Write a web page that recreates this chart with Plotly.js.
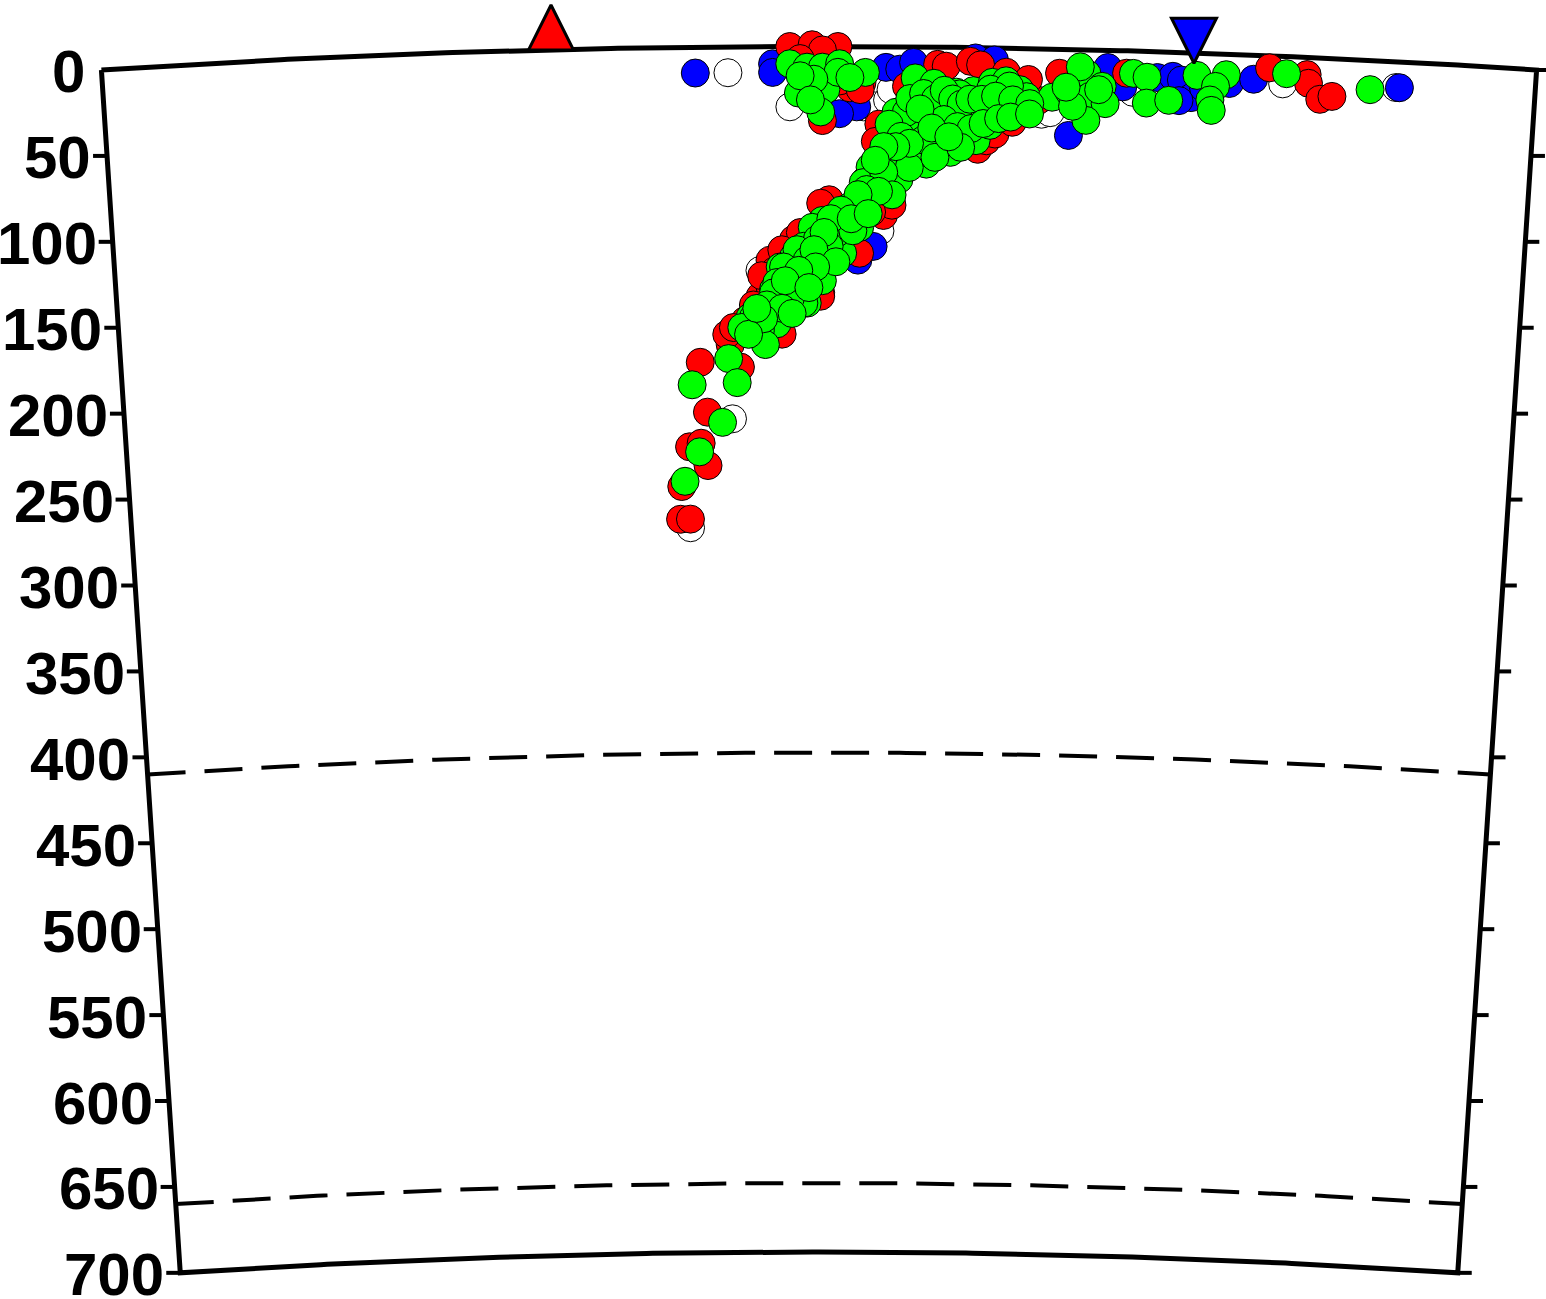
<!DOCTYPE html>
<html>
<head>
<meta charset="utf-8">
<script src="https://cdn.plot.ly/plotly-3.0.1.min.js"></script>
<style>html,body{margin:0;padding:0;background:#fff;}#chart{width:1546px;height:1299px;}</style>
</head>
<body>
<div id="chart"></div>
<script>
// ---------------- DATA ----------------
// Cross-section geometry (km)
const EARTH_R = 6371;
const SECTION_LENGTH = 834;   // distance along section (km)
const MAX_DEPTH = 700;
const depthTicks = [0, 50, 100, 150, 200, 250, 300, 350, 400, 450, 500, 550, 600, 650, 700];
const discontinuities = [410, 660];

// Surface features: volcano (red) and trench (blue)
const volcanoDist = [262];
const volcanoDepth = [-26];
const trenchDist = [635];
const trenchDepth = [6];

// Hypocentres: distance along section (km), depth (km)
const whiteDist  = [364, 400, 443, 447, 457, 459, 547, 552, 600, 687, 753, 382, 365, 339, 453];
const whiteDepth = [15, 35, 35, 34, 31, 25, 38, 37, 24, 16, 15, 130, 216, 279, 107];

const blueDist  = [345, 390, 390, 439, 429, 456, 464, 472, 508, 519, 563, 585, 594, 614, 623, 628, 634, 627, 656, 670, 755, 449, 440, 641];
const blueDepth = [15, 10, 15, 35, 39, 12, 13, 9, 6, 7, 50, 10, 21, 15, 14, 16, 26, 28, 17, 14, 15, 116, 124, 20];

const redDist  = [400, 413, 428, 419, 406, 442, 435, 419, 486, 491, 505, 511, 526, 468, 557, 596, 453, 510, 515, 457, 455, 423, 418, 402, 388, 382, 418, 441, 395, 679, 701, 702, 709, 716, 346, 364, 370, 350, 339, 346, 350, 334, 333, 339, 362, 388, 418, 500, 464, 444, 391, 373, 429, 441,
  452, 450, 520, 530, 545, 539, 460, 448, 406, 395, 383, 378, 366, 400];
const redDepth = [0, -1, 0, 2, 7, 21, 24, 43, 10, 11, 8, 10, 14, 23, 14, 13, 60, 59, 54, 87, 98, 89, 91, 112, 124, 145, 143, 120, 167, 7, 10, 15, 24, 22, 183, 173, 186, 212, 232, 230, 243, 255, 274, 274, 167, 140, 145, 54, 60, 78, 130, 159, 20, 25,
  45, 55, 50, 43, 30, 18, 92, 96, 108, 118, 133, 150, 163, 138];

const greenDist  = [400, 410, 419, 429, 444, 405, 421, 418, 428, 414, 406, 435, 412,
  473, 484, 497, 507, 518, 526, 534, 538, 462, 468, 474, 480, 488, 495, 503, 511, 518, 526, 534, 462, 472, 480, 494, 480, 468, 457, 451, 447, 464, 455, 499, 517, 523, 503, 484, 474, 468, 472, 509, 491, 528, 500, 517,
  553, 563, 573, 575, 582, 584, 573, 565, 600, 569, 561, 580, 608, 608, 621, 637, 654, 648, 645, 646, 689, 738,
  447, 443, 445, 435, 441, 429, 419, 413, 425, 431, 422, 408, 402, 394, 400, 416, 390, 406, 410, 398, 376, 392, 382,
  470, 455, 445, 439, 428, 437, 416, 423, 404, 410, 396, 404, 392, 419, 408, 400, 390, 378, 382, 385, 363, 368, 341, 359, 345, 336,
  458, 465, 470, 478, 485, 490, 495, 500, 505, 512, 520, 530, 540, 486, 478, 470, 490, 498, 506, 513, 522, 529, 540, 462, 455, 450, 485, 500, 476, 483, 493, 460, 452, 440, 430, 424, 436, 446,
  420, 414, 427, 415, 405, 397, 411, 386, 395, 401, 384, 371, 375, 380];
const greenDepth = [10, 12, 12, 10, 15, 27, 25, 38, 15, 19, 17, 18, 31,
  18, 21, 26, 25, 20, 19, 24, 28, 38, 44, 48, 41, 35, 38, 42, 40, 36, 34, 37, 50, 60, 60, 61, 68, 70, 64, 73, 79, 77, 70, 27, 24, 36, 38, 41, 47, 38, 64, 54, 48, 22, 47, 45,
  28, 25, 14, 27, 21, 31, 41, 33, 13, 10, 22, 23, 15, 30, 28, 13, 12, 19, 27, 33, 10, 17,
  70, 79, 89, 93, 105, 101, 101, 105, 112, 120, 122, 116, 122, 128, 134, 136, 141, 147, 149, 143, 157, 161, 163,
  70, 73, 83, 93, 108, 107, 112, 116, 118, 124, 128, 134, 137, 136, 149, 146, 143, 157, 165, 173, 181, 195, 196, 218, 235, 252,
  45, 52, 30, 27, 30, 25, 30, 33, 30, 30, 28, 30, 32, 55, 54, 56, 42, 46, 47, 44, 41, 40, 38, 58, 58, 66, 64, 58, 36, 47, 52, 86, 84, 86, 95, 100, 100, 97,
  108, 118, 125, 128, 130, 136, 140, 150, 152, 155, 158, 163, 167, 152];

// ---------------- PROJECTION ----------------
// Spherical cross-section: distance along the surface -> angle, depth -> radius.
function proj(dist, depth) {
  const th = (dist - SECTION_LENGTH / 2) / EARTH_R;
  const r = EARTH_R - depth;
  return [r * Math.sin(th), r * Math.cos(th) - EARTH_R];
}
function projList(dists, depths) {
  const xs = [], ys = [];
  for (let i = 0; i < dists.length; i++) {
    const p = proj(dists[i], depths[i]);
    xs.push(p[0]); ys.push(p[1]);
  }
  return {x: xs, y: ys};
}
function arc(depth, n) {
  const xs = [], ys = [];
  for (let i = 0; i <= n; i++) {
    const p = proj(SECTION_LENGTH * i / n, depth);
    xs.push(p[0]); ys.push(p[1]);
  }
  return {x: xs, y: ys};
}

const KM_PER_PX = 0.5807;
const traces = [];

// Frame
(function () {
  const top = arc(0, 200), bot = arc(MAX_DEPTH, 200);
  const xs = [], ys = [];
  xs.push(...top.x); ys.push(...top.y);
  const br = proj(SECTION_LENGTH, MAX_DEPTH);
  xs.push(br[0]); ys.push(br[1]);
  xs.push(...bot.x.slice().reverse()); ys.push(...bot.y.slice().reverse());
  const tl = proj(0, 0);
  xs.push(tl[0]); ys.push(tl[1]);
  traces.push({x: xs, y: ys, mode: 'lines', line: {color: '#000', width: 5}, hoverinfo: 'skip', showlegend: false});
})();

// Discontinuity dashed arcs
discontinuities.forEach(d => {
  const a = arc(d, 200);
  traces.push({x: a.x, y: a.y, mode: 'lines', line: {color: '#000', width: 4, dash: '38px,19px'}, hoverinfo: 'skip', showlegend: false});
});

// Ticks
(function () {
  const xs = [], ys = [];
  const tickLen = 14 * KM_PER_PX;
  depthTicks.forEach(d => {
    const l = proj(0, d);
    if (d !== 0) { xs.push(l[0] - tickLen, l[0], null); ys.push(l[1], l[1], null); }
    const r = proj(SECTION_LENGTH, d);
    xs.push(r[0], r[0] + tickLen, null); ys.push(r[1], r[1], null);
  });
  traces.push({x: xs, y: ys, mode: 'lines', line: {color: '#000', width: 4}, hoverinfo: 'skip', showlegend: false});
})();

// Hypocentres
function quakeTrace(dists, depths, color) {
  const p = projList(dists, depths);
  return {x: p.x, y: p.y, mode: 'markers', hoverinfo: 'skip', showlegend: false,
    marker: {size: 28, color: color, line: {color: '#000', width: 1}}};
}
traces.push(quakeTrace(whiteDist, whiteDepth, '#ffffff'));
traces.push(quakeTrace(blueDist, blueDepth, '#0000ff'));
traces.push(quakeTrace(redDist, redDepth, '#ff0000'));
traces.push(quakeTrace(greenDist, greenDepth, '#00ff00'));

// Volcano and trench symbols
(function () {
  const v = projList(volcanoDist, volcanoDepth);
  traces.push({x: v.x, y: v.y, mode: 'markers', hoverinfo: 'skip', showlegend: false,
    marker: {symbol: 'arrow-up', size: 45, color: '#ff0000', line: {color: '#000', width: 3}}});
  const t = projList(trenchDist, trenchDepth);
  traces.push({x: t.x, y: t.y, mode: 'markers', hoverinfo: 'skip', showlegend: false,
    marker: {symbol: 'arrow-down', size: 45, color: '#0000ff', line: {color: '#000', width: 3}}});
})();

// Depth labels
const annotations = depthTicks.map(d => {
  const p = proj(0, d);
  return {x: p[0], y: p[1], xref: 'x', yref: 'y', text: '<b>' + d + '</b>', showarrow: false,
    xanchor: 'right', yanchor: 'middle', xshift: -14, yshift: -2,
    font: {family: 'Liberation Sans, Arial, Helvetica, sans-serif', size: 60, color: '#000', weight: 'bold'}};
});

const W = 1546, H = 1299, X0 = 819, Y0 = 46.5;
const layout = {
  width: W, height: H,
  margin: {l: 0, r: 0, t: 0, b: 0, pad: 0},
  paper_bgcolor: '#fff', plot_bgcolor: '#fff',
  showlegend: false,
  xaxis: {range: [(0 - X0) * KM_PER_PX, (W - X0) * KM_PER_PX], visible: false, showgrid: false, zeroline: false, fixedrange: true},
  yaxis: {range: [-(H - Y0) * KM_PER_PX, Y0 * KM_PER_PX], visible: false, showgrid: false, zeroline: false, fixedrange: true},
  annotations: annotations
};

Plotly.newPlot('chart', traces, layout, {displayModeBar: false, staticPlot: true});
</script>
</body>
</html>
